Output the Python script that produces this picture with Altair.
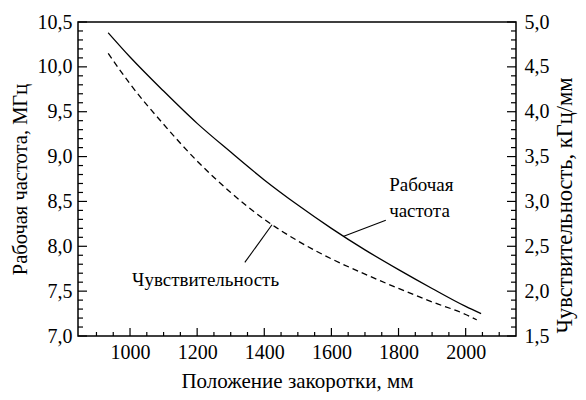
import altair as alt
import pandas as pd

# ---- data ----
pos_freq = [935, 1000, 1100, 1200, 1300, 1400, 1500, 1600, 1700, 1800, 1900, 2000, 2046]
freq = [10.38, 10.11, 9.73, 9.37, 9.05, 8.74, 8.46, 8.20, 7.96, 7.74, 7.53, 7.33, 7.25]

pos_sens = [935, 1000, 1100, 1200, 1300, 1400, 1500, 1600, 1700, 1800, 1900, 2000, 2033]
sens = [4.65, 4.31, 3.86, 3.45, 3.10, 2.80, 2.56, 2.36, 2.19, 2.03, 1.88, 1.74, 1.68]

x_major = [1000, 1200, 1400, 1600, 1800, 2000]
x_minor = [900, 950, 1050, 1100, 1150, 1250, 1300, 1350, 1450, 1500, 1550,
           1650, 1700, 1750, 1850, 1900, 1950, 2050, 2100]
left_major = [7.0, 7.5, 8.0, 8.5, 9.0, 9.5, 10.0, 10.5]
left_minor = [7.1, 7.2, 7.3, 7.4, 7.6, 7.7, 7.8, 7.9, 8.1, 8.2, 8.3, 8.4,
              8.6, 8.7, 8.8, 8.9, 9.1, 9.2, 9.3, 9.4, 9.6, 9.7, 9.8, 9.9,
              10.1, 10.2, 10.3, 10.4]
right_major = [1.5, 2.0, 2.5, 3.0, 3.5, 4.0, 4.5, 5.0]
right_minor = [1.6, 1.7, 1.8, 1.9, 2.1, 2.2, 2.3, 2.4, 2.6, 2.7, 2.8, 2.9,
               3.1, 3.2, 3.3, 3.4, 3.6, 3.7, 3.8, 3.9, 4.1, 4.2, 4.3, 4.4,
               4.6, 4.7, 4.8, 4.9]

freq_label_lines = ["Рабочая", "частота"]
freq_label_pos = [1772, 1772]
freq_label_val = [8.68, 8.39]
freq_leader = {"pos": [1635], "pos2": [1762], "val": [8.11], "val2": [8.29]}

sens_label = ["Чувствительность"]
sens_label_pos = [1006]
sens_label_val = [7.62]
sens_leader = {"pos": [1342], "pos2": [1423], "val": [7.82], "val2": [8.24]}

x_title = "Положение закоротки, мм"
left_title = "Рабочая частота, МГц"
right_title = "Чувствительность, кГц/мм"

# ---- layout ----
W, H = 438, 314
FONT = "Liberation Serif"
FS_LAB = 20
FS_ANN = 19
X_DOMAIN = [845, 2150]
YL_DOMAIN = [7.0, 10.5]
YR_DOMAIN = [1.5, 5.0]
COMMA = "replace(format(datum.value, '.1f'), '.', ',')"

x_axis = alt.Axis(values=x_major, format="d", ticks=False, domain=False, grid=False,
                  labelFont=FONT, labelFontSize=FS_LAB, labelColor="black", labelPadding=6,
                  title=x_title, titleFont=FONT, titleFontSize=21, titleFontWeight="normal",
                  titleColor="black", titlePadding=8)
x_scale = alt.Scale(domain=X_DOMAIN, nice=False, zero=False)


def X(field="pos"):
    return alt.X(f"{field}:Q", scale=x_scale, axis=x_axis)


left_axis = alt.Axis(values=left_major, labelExpr=COMMA, ticks=False, domain=False, grid=False,
                     labelFont=FONT, labelFontSize=FS_LAB, labelColor="black", labelPadding=6,
                     title=left_title, titleFont=FONT, titleFontSize=20.5, titleFontWeight="normal",
                     titleColor="black", titlePadding=7, orient="left")
right_axis = alt.Axis(values=right_major, labelExpr=COMMA, ticks=False, domain=False, grid=False,
                      labelFont=FONT, labelFontSize=FS_LAB, labelColor="black", labelPadding=8,
                      title=right_title, titleFont=FONT, titleFontSize=22.5, titleFontWeight="normal",
                      titleColor="black", titleAngle=270, titleBaseline="top",
                      titleX=37, titleY=183, orient="right")
yl_scale = alt.Scale(domain=YL_DOMAIN, nice=False, zero=False)
yr_scale = alt.Scale(domain=YR_DOMAIN, nice=False, zero=False)


def YL():
    return alt.Y("val:Q", scale=yl_scale, axis=left_axis)


def YR():
    return alt.Y("val:Q", scale=yr_scale, axis=right_axis)


df_freq = pd.DataFrame({"pos": pos_freq, "val": freq})
df_sens = pd.DataFrame({"pos": pos_sens, "val": sens})

solid = alt.Chart(df_freq).mark_line(color="black", strokeWidth=1.3, interpolate="monotone").encode(
    x=X(), y=YL())
dashed = alt.Chart(df_sens).mark_line(color="black", strokeWidth=1.3, strokeDash=[6, 4],
                                      interpolate="monotone").encode(x=X(), y=YR())

xt_major = alt.Chart(pd.DataFrame({"pos": x_major})).mark_rule(color="black", strokeWidth=1.2).encode(
    x=X(), y=alt.value(H), y2=alt.value(H - 8))
xt_minor = alt.Chart(pd.DataFrame({"pos": x_minor})).mark_rule(color="black", strokeWidth=1.2).encode(
    x=X(), y=alt.value(H), y2=alt.value(H - 4))

lt_major = alt.Chart(pd.DataFrame({"val": left_major})).mark_rule(color="black", strokeWidth=1.2).encode(
    y=YL(), x=alt.value(0), x2=alt.value(9))
lt_minor = alt.Chart(pd.DataFrame({"val": left_minor})).mark_rule(color="black", strokeWidth=1.2).encode(
    y=YL(), x=alt.value(0), x2=alt.value(5))
rt_major = alt.Chart(pd.DataFrame({"val": right_major})).mark_rule(color="black", strokeWidth=1.2).encode(
    y=YR(), x=alt.value(W), x2=alt.value(W - 9))
rt_minor = alt.Chart(pd.DataFrame({"val": right_minor})).mark_rule(color="black", strokeWidth=1.2).encode(
    y=YR(), x=alt.value(W), x2=alt.value(W - 5))

freq_text = alt.Chart(pd.DataFrame({"pos": freq_label_pos, "val": freq_label_val, "t": freq_label_lines})).mark_text(
    align="left", baseline="middle", font=FONT, fontSize=FS_ANN, color="black").encode(x=X(), y=YL(), text="t:N")
sens_text = alt.Chart(pd.DataFrame({"pos": sens_label_pos, "val": sens_label_val, "t": sens_label})).mark_text(
    align="left", baseline="middle", font=FONT, fontSize=FS_ANN, color="black").encode(x=X(), y=YL(), text="t:N")

freq_lead = alt.Chart(pd.DataFrame(freq_leader)).mark_rule(color="black", strokeWidth=1.1).encode(
    x=X(), x2="pos2:Q", y=YL(), y2="val2:Q")
sens_lead = alt.Chart(pd.DataFrame(sens_leader)).mark_rule(color="black", strokeWidth=1.1).encode(
    x=X(), x2="pos2:Q", y=YL(), y2="val2:Q")

left_group = alt.layer(solid, lt_major, lt_minor, xt_major, xt_minor, freq_text, sens_text, freq_lead, sens_lead)
right_group = alt.layer(dashed, rt_major, rt_minor)

chart = alt.layer(left_group, right_group).resolve_scale(y="independent").properties(
    width=W, height=H,
    padding={"left": 70, "top": 14, "right": 62, "bottom": 56},
    autosize=alt.AutoSizeParams(type="none"),
).configure_view(stroke="black", strokeWidth=1.5)

chart.save("out.html", embed_options={"renderer": "svg", "actions": False})
